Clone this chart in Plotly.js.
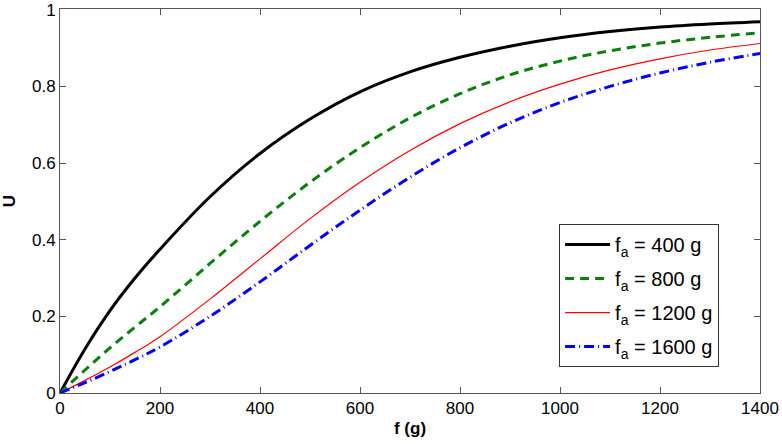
<!DOCTYPE html>
<html>
<head>
<meta charset="utf-8">
<script src="https://cdn.plot.ly/plotly-3.0.1.min.js"></script>
<style>
  html, body { margin: 0; padding: 0; background: #fff; }
  #viz { width: 782px; height: 444px; }
</style>
</head>
<body>
<div id="viz"></div>
<script>
var f = [0, 50, 100, 150, 200, 300, 400, 500, 600, 700, 800, 900, 1000, 1100, 1200, 1300, 1400];

// U for each f_a
var u400  = [0, 0.115, 0.215, 0.30, 0.375, 0.512, 0.625, 0.715, 0.786, 0.838, 0.876, 0.905, 0.927, 0.943, 0.955, 0.963, 0.969];
var u800  = [0, 0.06, 0.118, 0.172, 0.225, 0.338, 0.448, 0.55, 0.64, 0.718, 0.781, 0.83, 0.866, 0.893, 0.913, 0.928, 0.94];
var u1200 = [0, 0.033, 0.068, 0.106, 0.147, 0.245, 0.35, 0.455, 0.55, 0.633, 0.703, 0.76, 0.806, 0.843, 0.872, 0.895, 0.912];
var u1600 = [0, 0.027, 0.056, 0.087, 0.12, 0.2, 0.29, 0.385, 0.477, 0.563, 0.64, 0.705, 0.758, 0.8, 0.835, 0.863, 0.886];

var names = ['f<sub>a</sub> = 400 g', 'f<sub>a</sub> = 800 g', 'f<sub>a</sub> = 1200 g', 'f<sub>a</sub> = 1600 g'];
var yTicks = [0, 0.2, 0.4, 0.6, 0.8, 1];

var trace1 = {
  x: f, y: u400, type: 'scatter', mode: 'lines', name: names[0], legendgroup: 'a',
  line: { color: '#000000', width: 3, shape: 'spline', smoothing: 1 }
};
var trace2 = {
  x: f, y: u800, type: 'scatter', mode: 'lines', name: names[1], legendgroup: 'b',
  line: { color: '#0a7f0a', width: 3, dash: '9px,6px', shape: 'spline', smoothing: 1 }
};
var trace3 = {
  x: f, y: u1200, type: 'scatter', mode: 'lines', name: names[2], legendgroup: 'c',
  line: { color: '#ff0000', width: 1.2, shape: 'spline', smoothing: 1 }
};
var trace4 = {
  x: f, y: u1600, type: 'scatter', mode: 'lines', name: names[3], legendgroup: 'd',
  line: { color: '#0000ff', width: 3, dash: '10px,4px,1px,4px', shape: 'spline', smoothing: 1 }
};

var data = [trace1, trace2, trace3, trace4];

var axisStyle = {
  showline: true, mirror: 'ticks', linecolor: '#555', linewidth: 1,
  ticks: 'inside', ticklen: 6, tickcolor: '#555', tickwidth: 1,
  showgrid: false, zeroline: false,
  tickfont: { family: 'Liberation Sans, Arial, sans-serif', size: 17, color: '#000' }
};

var layout = {
  width: 782, height: 444,
  margin: { l: 60, r: 22, t: 9, b: 51 },
  paper_bgcolor: '#fff', plot_bgcolor: '#fff',
  showlegend: true,
  xaxis: Object.assign({}, axisStyle, {
    range: [0, 1400], dtick: 200,
    title: { text: '<b>f (g)</b>', standoff: 4,
             font: { family: 'Liberation Sans, Arial, sans-serif', size: 17, color: '#000' } }
  }),
  yaxis: Object.assign({}, axisStyle, {
    range: [0, 1.002], tickmode: 'array', tickvals: yTicks,
    title: { text: '<b>U</b>', standoff: 12,
             font: { family: 'Liberation Sans, Arial, sans-serif', size: 17, color: '#000' } }
  }),
  legend: {
    x: 0.713, y: 0.44, xanchor: 'left', yanchor: 'top',
    bgcolor: '#fff', bordercolor: '#333', borderwidth: 1,
    font: { family: 'Liberation Sans, Arial, sans-serif', size: 20, color: '#000' },
    tracegroupgap: 5,
    itemwidth: 45
  }
};

Plotly.newPlot('viz', data, layout, { staticPlot: true });
</script>
</body>
</html>
